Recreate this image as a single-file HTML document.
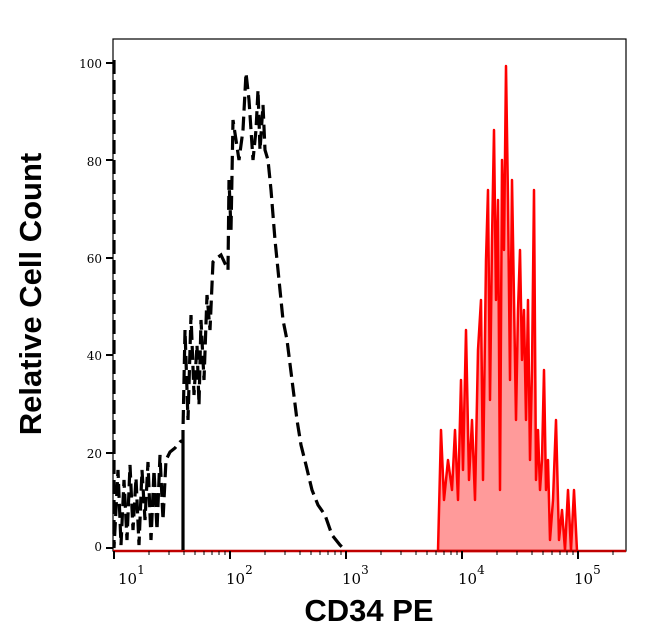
<!DOCTYPE html>
<html><head><meta charset="utf-8"><style>
body{margin:0;background:#fff;width:646px;height:641px;overflow:hidden}
svg{display:block}
</style></head><body>
<svg width="646" height="641" xmlns="http://www.w3.org/2000/svg" font-family="DejaVu Serif, serif">
<rect x="113" y="39" width="513" height="512" fill="none" stroke="#000" stroke-width="1.2"/>
<path d="M438,551 L441,430 444,500 448,460 452,490 455,430 458,500 461,380 463,470 466,330 469,480 472,420 475,500 478,350 481,300 483,480 486,260 488,190 490,400 492,240 494,130 496,300 498,200 500,490 502,160 504,250 506,66 508,200 510,380 512,180 514,300 516,420 518,310 520,250 522,360 524,310 526,420 528,300 530,460 532,370 534,190 536,480 538,430 540,490 542,460 544,370 546,490 548,460 550,540 553,500 556,420 559,540 562,510 565,550 568,490 571,550 574,490 577,551 Z" fill="#ff9a9a" stroke="#ff0000" stroke-width="2.5" stroke-linejoin="round"/>
<line x1="113" y1="551" x2="626" y2="551" stroke="#c00000" stroke-width="2.5"/>
<path d="M114,60 L114,548 118,470 121,545 124,480 127,540 130,465 133,530 136,478 139,545 142,470 145,520 148,462 151,540 154,470 157,530 160,455 163,520 166,460 170,452 175,448 180,442 183,440 183,550 183,430 185,330 188,420 191,315 194,395 197,345 199,405 201,320 204,380 207,295 210,330 213,262 217,258 221,255 228,270 229,180 231,230 233,120 236,140 239,160 243,130 246,73 249,100 253,160 256,130 258,90 260,150 263,105 265,150 268,160 271,190 275,240 279,280 283,320 287,340 292,380 297,420 301,445 306,465 312,490 318,505 325,515 332,535 340,545 346,551" fill="none" stroke="#000" stroke-width="3.2" stroke-dasharray="14 6"/>
<g stroke="#000" stroke-width="2">
<line x1="106" y1="63" x2="113" y2="63"/><line x1="106" y1="160" x2="113" y2="160"/><line x1="106" y1="258" x2="113" y2="258"/><line x1="106" y1="355" x2="113" y2="355"/><line x1="106" y1="453" x2="113" y2="453"/><line x1="106" y1="548" x2="113" y2="548"/>
</g>
<g font-size="12" text-anchor="end">
<text x="102" y="68">100</text><text x="102" y="166">80</text><text x="102" y="263">60</text><text x="102" y="360">40</text><text x="102" y="458">20</text><text x="102" y="551">0</text>
</g>
<g stroke="#000" stroke-width="2">
<line x1="114" y1="551" x2="114" y2="559"/><line x1="230" y1="551" x2="230" y2="559"/><line x1="346" y1="551" x2="346" y2="559"/><line x1="462" y1="551" x2="462" y2="559"/><line x1="578" y1="551" x2="578" y2="559"/>
</g>
<g stroke="#000" stroke-width="1">
<path d="M149,551v4M169,551v4M184,551v4M195,551v4M204,551v4M212,551v4M219,551v4M225,551v4M265,551v4M285,551v4M300,551v4M311,551v4M320,551v4M328,551v4M335,551v4M341,551v4M381,551v4M401,551v4M416,551v4M427,551v4M436,551v4M444,551v4M451,551v4M457,551v4M497,551v4M517,551v4M532,551v4M543,551v4M552,551v4M560,551v4M567,551v4M573,551v4M613,551v4"/>
</g>
<g font-size="15">
<text x="118" y="584">10<tspan font-size="12" dy="-10">1</tspan></text>
<text x="226" y="584">10<tspan font-size="12" dy="-10">2</tspan></text>
<text x="342" y="584">10<tspan font-size="12" dy="-10">3</tspan></text>
<text x="458" y="584">10<tspan font-size="12" dy="-10">4</tspan></text>
<text x="574" y="584">10<tspan font-size="12" dy="-10">5</tspan></text>
</g>
<text x="369" y="621" font-family="Liberation Sans, sans-serif" font-weight="bold" font-size="31" text-anchor="middle">CD34 PE</text>
<text transform="translate(41,294) rotate(-90)" font-family="Liberation Sans, sans-serif" font-weight="bold" font-size="31" text-anchor="middle">Relative Cell Count</text>
</svg>
</body></html>
